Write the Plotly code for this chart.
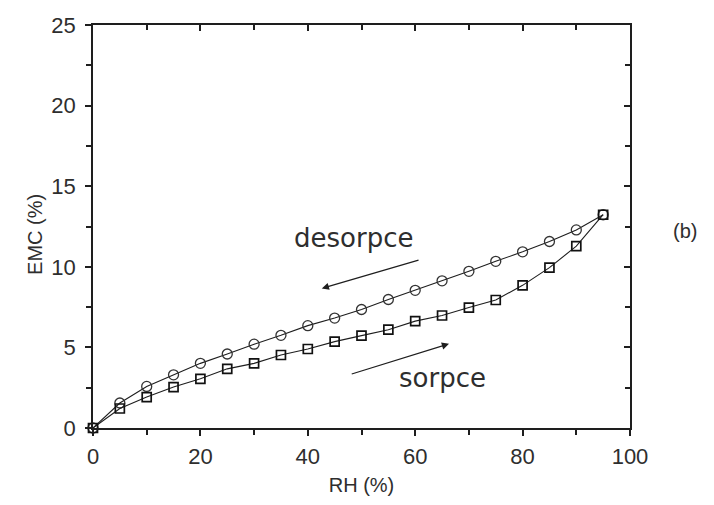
import plotly.graph_objects as go

rh = [0, 5, 10, 15, 20, 25, 30, 35, 40, 45, 50, 55, 60, 65, 70, 75, 80, 85, 90, 95]
emc_desorption = [0.0, 1.55, 2.58, 3.30, 4.01, 4.59, 5.20, 5.75, 6.35, 6.82,
                  7.35, 7.97, 8.54, 9.13, 9.72, 10.34, 10.93, 11.57, 12.29, 13.23]
emc_sorption = [0.0, 1.21, 1.92, 2.54, 3.05, 3.67, 4.01, 4.53, 4.90, 5.36,
                5.73, 6.10, 6.63, 6.98, 7.47, 7.94, 8.85, 9.95, 11.28, 13.23]

x_ticks = [0, 20, 40, 60, 80, 100]
y_ticks = [0, 5, 10, 15, 20, 25]

# annotation arrows (data coordinates): tail -> head
desorp_arrow = dict(tail=(60.9, 10.44), head=(42.6, 8.66))
sorp_arrow = dict(tail=(47.9, 3.32), head=(66.3, 5.22))

LINE = "#1e1e1e"
TEXT = "#2e2e2e"
FONT = "Liberation Sans, Arial, sans-serif"

# plot area in pixels (for paper-coordinate text placement)
L, R, T, B = 93, 630, 25, 432
W, H = R - L, B - T

fig = go.Figure()
fig.add_trace(go.Scatter(
    x=rh, y=emc_desorption, mode="lines+markers", name="desorpce",
    line=dict(color=LINE, width=1.1),
    marker=dict(symbol="circle-open", size=10, color="#333333", line=dict(width=1.3)),
    cliponaxis=False, showlegend=False))
fig.add_trace(go.Scatter(
    x=rh, y=emc_sorption, mode="lines+markers", name="sorpce",
    line=dict(color=LINE, width=1.1),
    marker=dict(symbol="square-open", size=9, color="#111111", line=dict(width=1.7)),
    cliponaxis=False, showlegend=False))
# dummy trace for mirrored axes
fig.add_trace(go.Scatter(x=[None], y=[None], xaxis="x2", yaxis="y2", showlegend=False))

axis_common = dict(showline=True, linecolor=LINE, linewidth=1.5, showgrid=False,
                   zeroline=False, tickcolor=LINE, tickwidth=1.5,
                   tickfont=dict(family=FONT, size=22, color=TEXT))

fig.update_layout(
    width=714, height=505,
    margin=dict(l=L, r=714 - R, t=T, b=505 - B),
    plot_bgcolor="white", paper_bgcolor="white",
    xaxis=dict(range=[0, 100], tickvals=x_ticks, ticks="outside", ticklen=6,
               ticklabelstandoff=2,
               minor=dict(tickvals=[10, 30, 50, 70, 90], ticks="outside", ticklen=5,
                          tickcolor=LINE, tickwidth=1.5),
               title=dict(text="RH (%)", font=dict(family=FONT, size=20, color=TEXT), standoff=10),
               **axis_common),
    yaxis=dict(range=[0, 25], tickvals=y_ticks, ticks="outside", ticklen=6,
               ticklabelstandoff=5,
               minor=dict(tickvals=[2.5, 7.5, 12.5, 17.5, 22.5], ticks="outside", ticklen=5,
                          tickcolor=LINE, tickwidth=1.5),
               **axis_common),
    xaxis2=dict(range=[0, 100], overlaying="x", side="top", showline=True, linecolor=LINE,
                linewidth=1.5, showgrid=False, zeroline=False, ticks="inside", ticklen=6,
                tickcolor=LINE, tickwidth=1.5, tickvals=x_ticks, showticklabels=False,
                minor=dict(tickvals=[10, 30, 50, 70, 90], ticks="inside", ticklen=5,
                           tickcolor=LINE, tickwidth=1.5)),
    yaxis2=dict(range=[0, 25], overlaying="y", side="right", showline=True, linecolor=LINE,
                linewidth=1.5, showgrid=False, zeroline=False, ticks="inside", ticklen=6,
                tickcolor=LINE, tickwidth=1.5, tickvals=y_ticks, showticklabels=False,
                minor=dict(tickvals=[2.5, 7.5, 12.5, 17.5, 22.5], ticks="inside", ticklen=5,
                           tickcolor=LINE, tickwidth=1.5)),
)

for arr in (desorp_arrow, sorp_arrow):
    fig.add_annotation(x=arr["head"][0], y=arr["head"][1], ax=arr["tail"][0], ay=arr["tail"][1],
                       xref="x", yref="y", axref="x", ayref="y", text="",
                       showarrow=True, arrowhead=2, arrowsize=1.2, arrowwidth=1.2,
                       arrowcolor=LINE)

fig.add_annotation(x=48.6, y=11.8, xref="x", yref="y", text="desorpce", showarrow=False,
                   font=dict(family="DejaVu Sans", size=26, color=TEXT))
fig.add_annotation(x=65.0, y=3.1, xref="x", yref="y", text="sorpce", showarrow=False,
                   font=dict(family="DejaVu Sans", size=26, color=TEXT))
fig.add_annotation(x=(699 - L) / W, y=(B - 233) / H, xref="paper", yref="paper",
                   text="(b)", showarrow=False,
                   font=dict(family=FONT, size=20, color=TEXT))
# y-axis title
fig.add_annotation(x=(22 - L) / W, y=(B - 237) / H, xref="paper", yref="paper",
                   text="EMC (%)", showarrow=False, textangle=-90,
                   font=dict(family=FONT, size=20, color=TEXT))

fig.write_html("out.html")
